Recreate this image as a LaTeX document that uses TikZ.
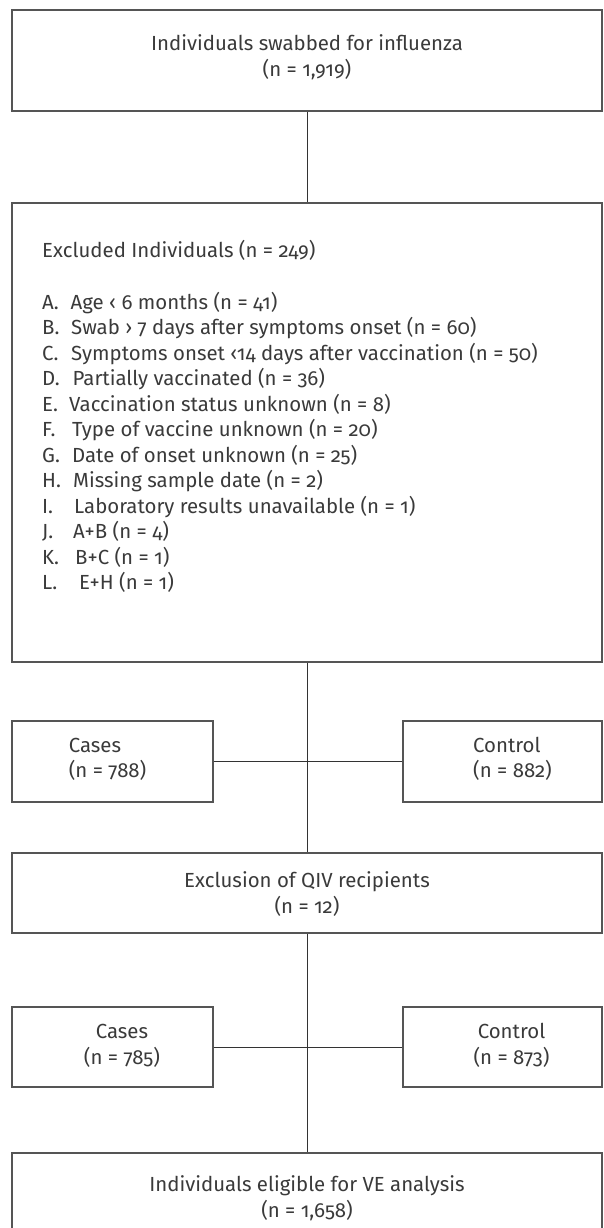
\documentclass[tikz,border=0pt]{standalone}
\usepackage{fontspec}
\setmainfont{Fira Sans}[Numbers=OldStyle]
\definecolor{txt}{HTML}{3A3A3A}
\definecolor{brd}{HTML}{555555}
\definecolor{con}{HTML}{333333}
\tikzset{
  box/.style={draw=brd, line width=1.2pt, inner sep=0pt, rectangle},
  wide/.style={box, minimum width=590pt},
  small/.style={box, minimum height=81pt},
  conn/.style={draw=con, line width=1pt},
  lbl/.style={text=txt, font=\fontsize{20.4}{26}\selectfont, inner sep=0pt},
}
\begin{document}
\begin{tikzpicture}[x=1pt,y=-1pt]
\useasboundingbox (0,0) rectangle (604,1228);
\clip (0,0) rectangle (604,1228);

% boxes
\node[wide, minimum height=101pt] (b1) at (307,60.5) {};
\node[wide, minimum height=459pt] (b2) at (307,432.5) {};
\node[small, minimum width=201pt] (c1) at (112.5,761.5) {};
\node[small, minimum width=199pt] (k1) at (502.5,761.5) {};
\node[wide, minimum height=80pt] (q) at (307,893) {};
\node[small, minimum width=201pt, minimum height=80pt] (c2) at (112.5,1047) {};
\node[small, minimum width=199pt, minimum height=80pt] (k2) at (502.5,1047) {};
\node[wide, minimum height=80pt] (f) at (307,1193) {};

% connectors
\draw[conn] (b1.south) -- (b2.north);
\draw[conn] (b2.south) -- (q.north);
\draw[conn] (c1.east) -- (k1.west);
\draw[conn] (q.south) -- (f.north);
\draw[conn] (c2.east) -- (k2.west);

% box 1 text
\node[lbl, anchor=base] (t1a) at (307,51) {Individuals swabbed for influenza};
\node[lbl, anchor=base] (t1b) at (307,77) {(n = 1,919)};

% box 2 text
\node[lbl, anchor=base west] (t2) at (42,257.5) {Excluded Individuals (n = 249)};
\foreach \l/\t/\x [count=\i from 0] in {
  A./Age ‹ 6 months (n = 41)/70.5,
  B./Swab › 7 days after symptoms onset (n = 60)/71,
  C./Symptoms onset ‹14 days after vaccination (n = 50)/71,
  D./Partially vaccinated (n = 36)/72.5,
  E./Vaccination status unknown (n = 8)/69,
  F./Type of vaccine unknown (n = 20)/72,
  G./Date of onset unknown (n = 25)/72,
  H./Missing sample date (n = 2)/73,
  I./Laboratory results unavailable (n = 1)/74,
  J./A+B (n = 4)/73,
  K./B+C (n = 1)/75,
  L./E+H (n = 1)/79}{
  \node[lbl, anchor=base west] (lab\i) at (42,309+25.5*\i) {\l};
  \node[lbl, anchor=base west] (item\i) at (\x,309+25.5*\i) {\t};
}

% cases / control 1
\node[lbl, anchor=base west] (c1a) at (68.6,752) {Cases};
\node[lbl, anchor=base west] (c1b) at (68.6,777) {(n = 788)};
\node[lbl, anchor=base west] (k1a) at (473,752) {Control};
\node[lbl, anchor=base west] (k1b) at (473,777) {(n = 882)};

% QIV
\node[lbl, anchor=base] (qa) at (307,887) {Exclusion of QIV recipients};
\node[lbl, anchor=base] (qb) at (307,913) {(n = 12)};

% cases / control 2
\node[lbl, anchor=base] (c2a) at (122,1038) {Cases};
\node[lbl, anchor=base] (c2b) at (122,1064) {(n = 785)};
\node[lbl, anchor=base] (k2a) at (511.5,1038) {Control};
\node[lbl, anchor=base] (k2b) at (511.5,1064) {(n = 873)};

% final
\node[lbl, anchor=base] (fa) at (307,1191) {Individuals eligible for VE analysis};
\node[lbl, anchor=base] (fb) at (307,1217) {(n = 1,658)};
\end{tikzpicture}
\end{document}
